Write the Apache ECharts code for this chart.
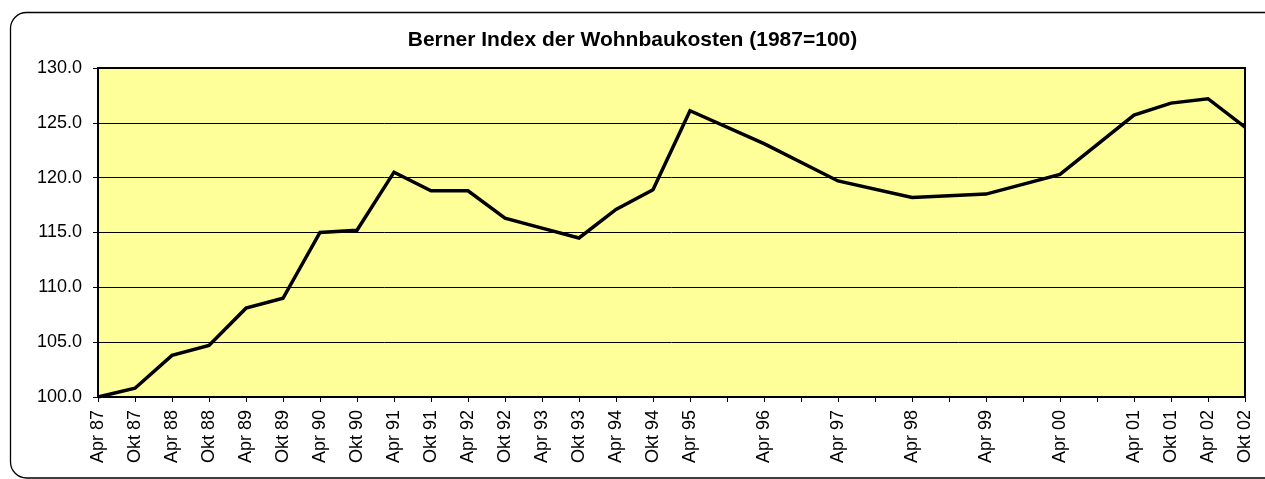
<!DOCTYPE html>
<html><head><meta charset="utf-8">
<script src="https://cdn.jsdelivr.net/npm/echarts@6/dist/echarts.min.js"></script>
<style>html,body{margin:0;padding:0;background:#fff}#c{width:1265px;height:479px}</style>
</head><body><div id="c"></div>
<script>
// Half-year categories (Apr / Okt)
const categories = ["Apr 87","Okt 87","Apr 88","Okt 88","Apr 89","Okt 89","Apr 90","Okt 90","Apr 91","Okt 91","Apr 92","Okt 92","Apr 93","Okt 93","Apr 94","Okt 94","Apr 95","Okt 95","Apr 96","Okt 96","Apr 97","Okt 97","Apr 98","Okt 98","Apr 99","Okt 99","Apr 00","Okt 00","Apr 01","Okt 01","Apr 02","Okt 02"];
// Labels shown on the axis (blank where the reference shows none)
const tickLabels = ["Apr 87","Okt 87","Apr 88","Okt 88","Apr 89","Okt 89","Apr 90","Okt 90","Apr 91","Okt 91","Apr 92","Okt 92","Apr 93","Okt 93","Apr 94","Okt 94","Apr 95","","Apr 96","","Apr 97","","Apr 98","","Apr 99","","Apr 00","","Apr 01","Okt 01","Apr 02","Okt 02"];
const indexValues = [100.0,100.8,103.8,104.7,108.1,109.0,115.0,115.2,120.5,118.8,118.8,116.3,115.4,114.5,117.1,118.9,126.1,null,123.1,null,119.7,null,118.2,null,118.5,null,120.3,null,125.7,126.8,127.2,124.6];
const yTicks = [100,105,110,115,120,125,130];

const chart = echarts.init(document.getElementById('c'), null, {renderer:'canvas'});
const FONT = '"Liberation Sans", Arial, sans-serif';
chart.setOption({
  animation:false,
  backgroundColor:'#ffffff',
  title:{text:'Berner Index der Wohnbaukosten (1987=100)', left:'center', top:30, padding:0,
    textStyle:{fontFamily:FONT, fontSize:21, fontWeight:'bold', color:'#000'}},
  graphic:[{type:'rect', shape:{x:10.5,y:12.5,width:1275,height:465.5,r:16},
    style:{fill:'none', stroke:'#000', lineWidth:1.3}, silent:true, z:-1}],
  grid:{left:98, right:20, top:68, bottom:82, show:true, backgroundColor:'#FFFF99',
    borderColor:'#000', borderWidth:2},
  xAxis:{type:'category', data:categories, boundaryGap:false,
    axisLine:{lineStyle:{color:'#000', width:2}},
    axisTick:{show:true, interval:0, length:5, lineStyle:{color:'#000', width:1}},
    axisLabel:{interval:0, rotate:90, fontFamily:FONT, fontSize:18, color:'#000', margin:13,
      formatter:(v,i)=>tickLabels[i]},
    splitLine:{show:false}},
  yAxis:{type:'value', min:100, max:130, interval:5,
    axisLine:{show:true, lineStyle:{color:'#000', width:2}},
    axisTick:{show:true, length:5, lineStyle:{color:'#000', width:1}},
    axisLabel:{fontFamily:FONT, fontSize:18, color:'#000', margin:16,
      formatter:v=>yTicks.includes(v)?v.toFixed(1):''},
    splitLine:{show:true, lineStyle:{color:'#000', width:1}}},
  series:[{type:'line', data:indexValues, connectNulls:true, symbol:'none',
    lineStyle:{color:'#000', width:3.5, join:'miter'}}]
});
</script></body></html>
